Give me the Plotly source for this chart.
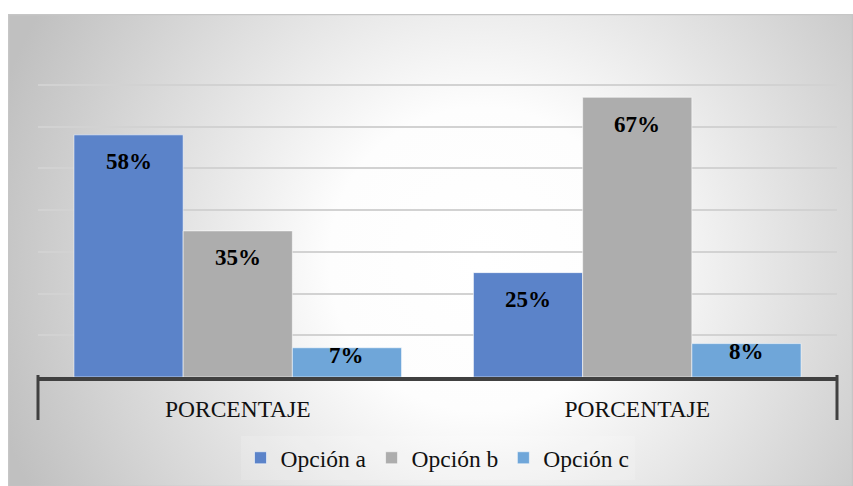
import base64
import plotly.graph_objects as go

# Data
categories = ["PORCENTAJE", "PORCENTAJE"]
series_names = ["Opción a", "Opción b", "Opción c"]
opcion_a = [0.58, 0.25]
opcion_b = [0.35, 0.67]
opcion_c = [0.07, 0.08]
series_values = [opcion_a, opcion_b, opcion_c]
series_colors = ["#5B83C9", "#ADADAD", "#6FA6D9"]

W, H = 853, 486
ML, MR, MT, MB = 38, 16, 43, 109
BARGAP = 0.18

x_pos = list(range(len(categories)))

fig = go.Figure()
for name, vals, col in zip(series_names, series_values, series_colors):
    fig.add_trace(go.Bar(
        x=x_pos, y=vals, name=name,
        marker=dict(color=col, line=dict(color="rgba(255,255,255,0.55)", width=1)),
        hoverinfo="skip",
    ))

# value labels inside the top of each bar
bar_w = (1 - BARGAP) / len(series_names)
annotations = []
for i, vals in enumerate(series_values):
    off = (i - (len(series_names) - 1) / 2) * bar_w
    for xi, v in zip(x_pos, vals):
        annotations.append(dict(
            x=xi + off, y=v, xref="x", yref="y",
            text=f"{round(v * 100)}%", showarrow=False,
            yanchor="middle", yshift=-27 if v >= 0.15 else -8,
            font=dict(family="Liberation Serif", size=23, color="#000", weight="bold"),
        ))

# chart-area background: soft radial gradient
cw, ch = W - 8, H - 14
svg = f'''<svg xmlns="http://www.w3.org/2000/svg" width="{cw}" height="{ch}" viewBox="0 0 {cw} {ch}" preserveAspectRatio="none">
<defs><radialGradient id="g" gradientUnits="userSpaceOnUse" cx="{cw*0.56:.1f}" cy="{ch*0.52:.1f}" r="{cw*0.6:.1f}">
<stop offset="0" stop-color="#ffffff"/><stop offset="0.3" stop-color="#fdfdfd"/><stop offset="1" stop-color="#c0c0c0"/>
</radialGradient></defs>
<rect x="0.5" y="0.5" width="{cw-1}" height="{ch}" fill="url(#g)" stroke="#c6c6c6" stroke-width="1.5"/>
</svg>'''
src = "data:image/svg+xml;base64," + base64.b64encode(svg.encode()).decode()

pw, ph = W - ML - MR, H - MT - MB
def px2x(px):
    return (px - ML) / pw
def py2y(py):
    return (H - MB - py) / ph

images = [dict(source=src, xref="paper", yref="paper",
               x=px2x(8), y=py2y(14), sizex=px2x(W) - px2x(8), sizey=py2y(14) - py2y(H),
               xanchor="left", yanchor="top", sizing="stretch", layer="below")]

# end ticks of the category axis
shapes = [dict(type="line", xref="paper", yref="paper", x0=xx, x1=xx, y0=0.006, y1=py2y(420),
               line=dict(color="#404040", width=3)) for xx in (0, 1)]

fig.update_layout(
    template="none",
    width=W, height=H, autosize=False,
    margin=dict(l=ML, r=MR, t=MT, b=MB, autoexpand=False),
    paper_bgcolor="white", plot_bgcolor="rgba(0,0,0,0)",
    barmode="group", bargap=BARGAP, bargroupgap=0,
    images=images, shapes=shapes, annotations=annotations,
    showlegend=True,
    legend=dict(orientation="h", x=0.5, xanchor="center", y=py2y(458), yanchor="middle",
                font=dict(family="Liberation Serif", size=23.5, color="#111"),
                bgcolor="rgba(255,255,255,0.15)", traceorder="normal"),
    xaxis=dict(range=[-0.5, 1.5], tickvals=x_pos, ticktext=categories, showgrid=False,
               zeroline=False, showline=True, linecolor="#404040", linewidth=4, ticks="",
               tickfont=dict(family="Liberation Serif", size=23.5, color="#111"),
               ticklabelstandoff=8, automargin=False, fixedrange=True),
    yaxis=dict(range=[0, 0.8], dtick=0.1, showticklabels=False, showgrid=True,
               gridcolor="#d2d2d2", gridwidth=1.5, zeroline=False, showline=False,
               automargin=False, fixedrange=True),
)

fig.write_html("out.html", config={"displayModeBar": False})
